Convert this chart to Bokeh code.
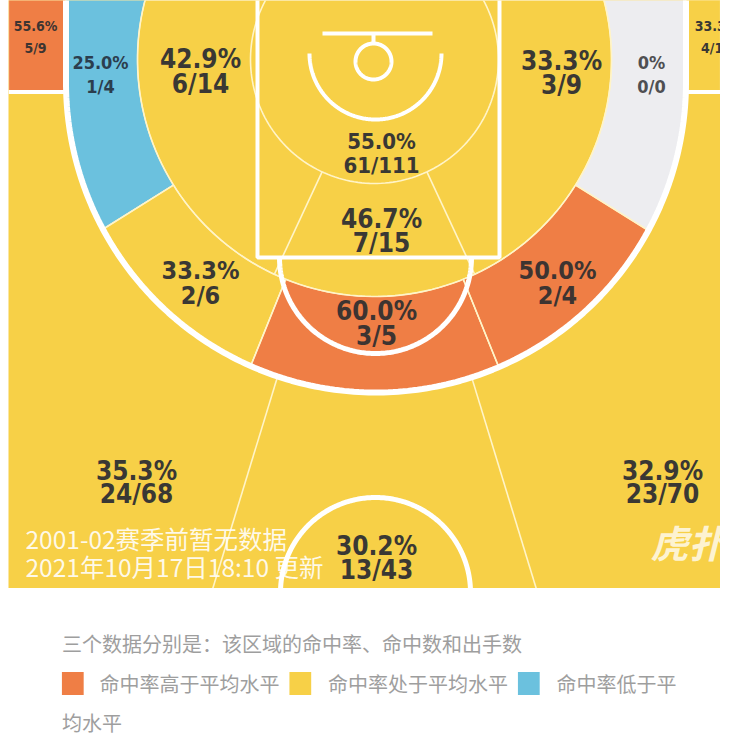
import numpy as np
from bokeh.plotting import figure
from bokeh.models import Range1d, ColumnDataSource
from bokeh.layouts import column
from bokeh.embed import file_html
from bokeh.resources import INLINE
from bokeh.core.properties import value

# ---------------- data ----------------
zones = ["左侧底角三分", "右侧底角三分", "左侧45度三分", "正面三分", "右侧45度三分",
         "左侧底角中投", "右侧底角中投", "左侧45度中投", "正面中投", "右侧45度中投",
         "左侧近距离", "油漆区", "右侧近距离", "篮下"]
made = [5, 4, 24, 13, 23, 1, 0, 2, 3, 2, 6, 7, 3, 61]
attempts = [9, 12, 68, 43, 70, 4, 0, 6, 5, 4, 14, 15, 9, 111]
levels = ["high", "avg", "avg", "avg", "avg", "low", "none", "avg", "high", "high",
          "avg", "avg", "avg", "avg"]
legend_levels = ["high", "avg", "low"]
legend_labels = ["命中率高于平均水平", "命中率处于平均水平", "命中率低于平均水平"]
legend_title = "三个数据分别是：该区域的命中率、命中数和出手数"
note_lines = ["2001-02赛季前暂无数据", "2021年10月17日18:10 更新"]
watermark = "虎扑"

# ---------------- styles ----------------
level_colors = {"high": "#EF7E45", "avg": "#F7D047", "low": "#6BC1DE", "none": "#EDEDF0"}
text_colors = {"high": "#3d3431", "avg": "#3a3834", "low": "#2b3e4e", "none": "#4f4f52"}
NUM_FONT = "DejaVu Sans Condensed"
CJK_FONT = "Noto Sans CJK SC"
THIN = "#FFF4C8"

# ---------------- court geometry (reference pixel space) ----------------
HX, HY = 374.0, 59.0          # rim centre used for zone rays
R_IN, R_MID = 124.0, 237.0
C3X, C3Y, R3 = 375.5, 82.0, 310.0
XL, XR = C3X - R3, C3X + R3
TOP = -40.0
LEFT, RIGHT = 8.0, 720.0


def ray(th, r):
    t = np.radians(th)
    return HX - r * np.sin(t), HY + r * np.cos(t)


def hit3(th):
    t = np.radians(th)
    dx, dy = -np.sin(t), np.cos(t)
    wx, wy = HX - C3X, HY - C3Y
    b = wx * dx + wy * dy
    c = wx * wx + wy * wy - R3 * R3
    s = -b + np.sqrt(b * b - c)
    px, py = HX + s * dx, HY + s * dy
    if py < C3Y:
        xc = XL if dx < 0 else XR
        s = (xc - HX) / dx
        px, py = xc, HY + s * dy
    return float(px), float(max(py, TOP))


def sector(a, b, n=80):
    ths = np.linspace(a, b, n)
    outer = [hit3(t) for t in ths]
    inner = [ray(t, R_MID) for t in ths[::-1]]
    xs = [p[0] for p in outer] + [float(p[0]) for p in inner]
    ys = [p[1] for p in outer] + [float(max(p[1], TOP)) for p in inner]
    return xs, ys


def circle_pts(cx, cy, r, a0=0.0, a1=2 * np.pi, n=200):
    a = np.linspace(a0, a1, n)
    return list(cx + r * np.cos(a)), list(cy + r * np.sin(a))


zone_shapes = {
    0: ([LEFT, XL, XL, LEFT], [TOP, TOP, 90, 90]),
    1: ([XR, RIGHT, RIGHT, XR], [TOP, TOP, 90, 90]),
    5: sector(58, 125),
    6: sector(-125, -58),
    7: sector(22, 58),
    8: sector(-22, 22),
    9: sector(-58, -22),
}

label_layout = {  # x, y line1, y line2, font px
    0: (35, 25, 47, 14), 1: (716, 25, 47, 14),
    2: (136, 470, 493, 26), 3: (376, 545, 569, 26), 4: (662, 470, 493, 26),
    5: (100, 62, 86, 18), 6: (651, 62, 86, 18),
    7: (200, 270, 295, 25), 8: (376, 310, 335, 26), 9: (557, 270, 295, 25),
    10: (200, 58, 83, 26), 11: (381, 218, 242, 26), 12: (561, 60, 84, 26),
    13: (381, 141, 165, 22),
}

# ---------------- court figure ----------------
court = figure(width=720, height=588, x_range=Range1d(LEFT, RIGHT), y_range=Range1d(588, 0),
               output_backend="svg", toolbar_location=None, min_border=0, min_border_left=8,
               x_axis_type=None, y_axis_type=None)
court.grid.visible = False
court.outline_line_color = None
court.background_fill_color = level_colors["avg"]
court.border_fill_color = "white"

pxs, pys, pcs = [], [], []
for i, shp in zone_shapes.items():
    pxs.append(shp[0]); pys.append(shp[1]); pcs.append(level_colors[levels[i]])
court.patches(xs=pxs, ys=pys, fill_color=pcs, line_color=THIN, line_width=1.2)

# thin zone lines
thin_x, thin_y = [], []
for r in (R_IN, R_MID):
    cx, cy = circle_pts(HX, HY, r)
    thin_x.append(cx); thin_y.append(cy)
for th in (25, -25):
    p0, p1 = ray(th, R_IN), ray(th, R_MID)
    thin_x.append([p0[0], p1[0]]); thin_y.append([p0[1], p1[1]])
for th in (22, -22, 58, -58):
    p0, p1 = ray(th, R_MID), hit3(th)
    thin_x.append([p0[0], p1[0]]); thin_y.append([p0[1], p1[1]])
for th in (17, -17):
    p0, p1 = hit3(th), ray(th, 700)
    thin_x.append([p0[0], p1[0]]); thin_y.append([p0[1], p1[1]])
court.multi_line(xs=thin_x, ys=thin_y, line_color=THIN, line_width=1.6)

# thick white court lines
ax, ay = circle_pts(C3X, C3Y, R3, np.pi, 0.0)
court.line([XL, XL] + ax + [XR, XR], [TOP, C3Y] + ay + [C3Y, TOP], line_color="white", line_width=6)
court.multi_line(xs=[[LEFT, XL], [XR, RIGHT]], ys=[[91.5, 91.5], [91.5, 91.5]],
                 line_color="white", line_width=4)
court.line([257, 257, 499, 499], [TOP, 257, 257, TOP], line_color="white", line_width=4)
fx, fy = circle_pts(375, 257, 96, 0.0, np.pi)
court.line(fx, fy, line_color="white", line_width=5)
rx, ry = circle_pts(375, 53, 66, 0.0, np.pi)
court.line(rx, ry, line_color="white", line_width=4)
court.line([322, 432], [33, 33], line_color="white", line_width=4)
court.line([373, 373], [33, 43], line_color="white", line_width=4)
hx_, hy_ = circle_pts(373, 61, 18)
court.line(hx_, hy_, line_color="white", line_width=4)
cx_, cy_ = circle_pts(375, 592, 95, np.pi, 2 * np.pi)
court.line(cx_, cy_, line_color="white", line_width=5)

# zone labels
lx, ly, lt, lf, lc = [], [], [], [], []
for i in range(len(zones)):
    x, y1, y2, fs = label_layout[i]
    a, m = attempts[i], made[i]
    pct = "0%" if a == 0 else f"{100.0 * m / a:.1f}%"
    for y, t in ((y1, pct), (y2, f"{m}/{a}")):
        lx.append(x); ly.append(y); lt.append(t); lf.append(f"{fs}px")
        lc.append(text_colors[levels[i]])
src = ColumnDataSource(dict(x=lx, y=ly, text=lt, fs=lf, tc=lc))
court.text(x="x", y="y", text="text", source=src, text_align="center", text_baseline="middle",
           text_font=value(NUM_FONT), text_font_style="bold",
           text_font_size={"field": "fs"}, text_color={"field": "tc"})

# footnote + watermark
court.text(x=[25, 25], y=[538, 566], text=note_lines, text_align="left", text_baseline="middle",
           text_font=value(CJK_FONT), text_font_size="24.5px", text_color="white", text_alpha=0.88)
court.text(x=[688], y=[541], text=[watermark], text_align="center", text_baseline="middle",
           text_font=value(CJK_FONT), text_font_size="38px", text_font_style="bold italic",
           text_color="white", text_alpha=0.75)

# ---------------- legend figure ----------------
leg = figure(width=740, height=155, x_range=Range1d(8, 748), y_range=Range1d(743, 588),
             output_backend="svg", toolbar_location=None, min_border=0,
             x_axis_type=None, y_axis_type=None)
leg.grid.visible = False
leg.outline_line_color = None
leg.background_fill_color = "white"
leg.border_fill_color = "white"

leg.text(x=[62], y=[643], text=[legend_title], text_align="left", text_baseline="middle",
         text_font=value(CJK_FONT), text_font_size="20px", text_color="#9e9e9e")
sq_x = [73, 303, 534]
leg.rect(x=sq_x, y=[683] * 3, width=22, height=23,
         fill_color=[level_colors[l] for l in legend_levels], line_color=None)
lab_x = [100, 331, 562]
lab_t = [legend_labels[0], legend_labels[1], legend_labels[2][:6]]
leg.text(x=lab_x, y=[683] * 3, text=lab_t, text_align="left", text_baseline="middle",
         text_font=value(CJK_FONT), text_font_size="20px", text_color="#9e9e9e")
leg.text(x=[62], y=[722], text=[legend_labels[2][6:]], text_align="left", text_baseline="middle",
         text_font=value(CJK_FONT), text_font_size="20px", text_color="#9e9e9e")

layout = column(court, leg, spacing=0)
open("out.html", "w").write(file_html(layout, INLINE))
